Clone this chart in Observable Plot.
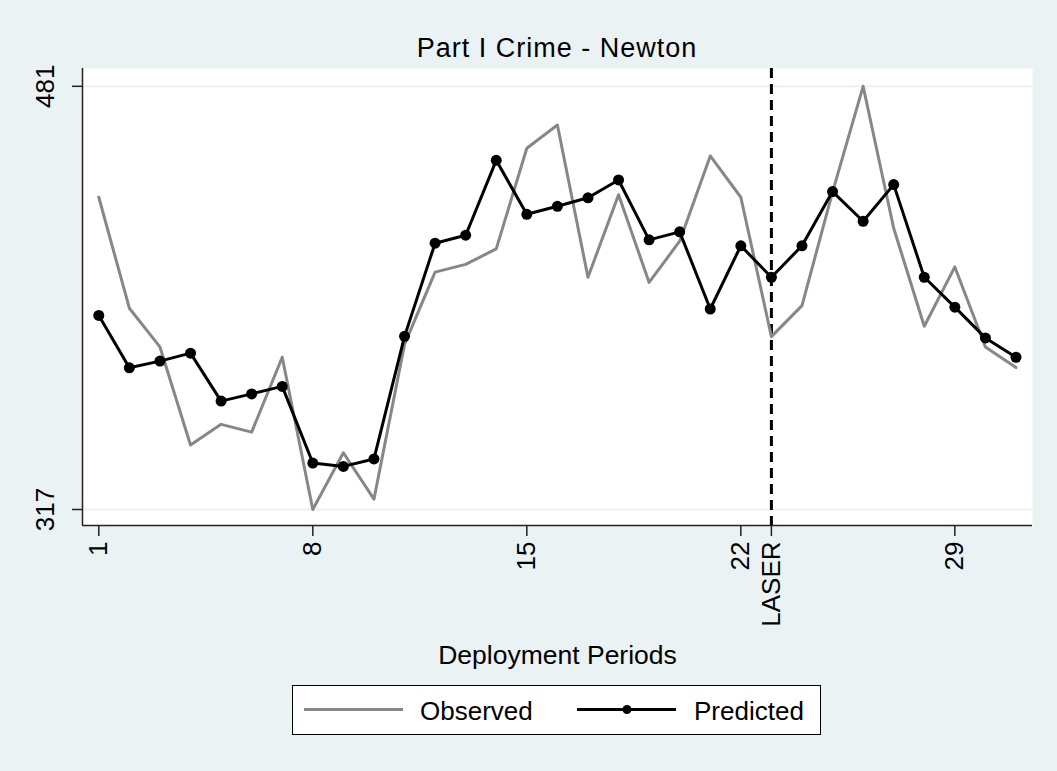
<!DOCTYPE html>
<html>
<head>
<meta charset="utf-8">
<script src="https://cdn.jsdelivr.net/npm/d3@7"></script>
<script src="https://cdn.jsdelivr.net/npm/@observablehq/plot@0.6"></script>
<style>
  html, body { margin: 0; padding: 0; background: #eaf2f3; }
  #wrap { position: relative; width: 1057px; height: 771px; background: #eaf2f3; font-family: "Liberation Sans", Arial, Helvetica, sans-serif; overflow: hidden; }
  #title { position: absolute; top: 33px; left: 82px; width: 950px; text-align: center; font-size: 27px; line-height: 30px; letter-spacing: 1px; color: #000; }
  #chart { position: absolute; top: 60px; left: 0; }
  #legend { position: absolute; left: 292px; top: 685px; }
</style>
</head>
<body>
<div id="wrap">
  <div id="title">Part I Crime - Newton</div>
  <div id="chart"></div>
  <div id="legend"></div>
</div>
<script>
// ---- data ----
const periods = [1,2,3,4,5,6,7,8,9,10,11,12,13,14,15,16,17,18,19,20,21,22,23,24,25,26,27,28,29,30,31];
const observed = [438,395,380,342,350,347,376,317,339,321,381,409,412,418,457,466,407,439,405,421,454,438,384,396,440,481,426,388,411,380,372];
const predicted = [392.2,371.9,374.5,377.6,359.0,361.8,364.7,335.0,333.7,336.6,384.1,420.2,423.3,452.3,431.4,434.5,437.8,444.7,421.5,424.6,394.7,419.2,407.0,419.2,440.2,428.7,442.9,407.0,395.4,383.5,376.0];
const xTickValues = [1, 8, 15, 22, 23, 29];
const xTickLabels = ["1", "8", "15", "22", "LASER", "29"];
const yTickValues = [317, 481];
const laserPeriod = 23;
const xTitle = "Deployment Periods";
const seriesNames = ["Observed", "Predicted"];

const rows = periods.map((p, i) => ({period: p, observed: observed[i], predicted: predicted[i]}));
const xDomain = [0.467, 31.54];
const yDomain = [310.8, 487.9];
const labelOf = new Map(xTickValues.map((v, i) => [v, xTickLabels[i]]));

const font = "'Liberation Sans', Arial, Helvetica, sans-serif";

const plot = Plot.plot({
  width: 1057,
  height: 620,
  marginTop: 8,
  marginBottom: 155,
  marginLeft: 82,
  marginRight: 25,
  style: {background: "transparent", fontFamily: font, color: "#000", overflow: "visible"},
  x: {type: "linear", domain: xDomain},
  y: {type: "linear", domain: yDomain},
  marks: [
    Plot.frame({fill: "white", stroke: "none"}),
    Plot.ruleY(yTickValues, {stroke: "#eaf2f3", strokeWidth: 2}),
    Plot.ruleX([xDomain[0]], {stroke: "#222", strokeWidth: 1.5}),
    Plot.ruleY([yDomain[0]], {stroke: "#222", strokeWidth: 1.5}),
    Plot.axisY({ticks: yTickValues, tickSize: 10, tickPadding: 19, tickRotate: -90,
      textAnchor: "middle", lineAnchor: "bottom", fontSize: 26, label: null, stroke: "#222", strokeWidth: 1.5, tickFormat: d => String(d)}),
    Plot.axisX({ticks: xTickValues, tickSize: 11, tickPadding: 5, tickRotate: -90,
      textAnchor: "end", lineAnchor: "middle", fontSize: 26, label: null, stroke: "#222", strokeWidth: 1.5, tickFormat: d => labelOf.get(d)}),
    Plot.ruleX([laserPeriod], {stroke: "black", strokeWidth: 3, strokeDasharray: "10,6"}),
    Plot.line(rows, {x: "period", y: "observed", stroke: "#878787", strokeWidth: 3}),
    Plot.line(rows, {x: "period", y: "predicted", stroke: "black", strokeWidth: 3}),
    Plot.dot(rows, {x: "period", y: "predicted", r: 5.5, fill: "black", stroke: "none"}),
    Plot.text([xTitle], {text: d => d, frameAnchor: "bottom", lineAnchor: "bottom", dy: 138, fontSize: 26.5, fill: "black"})
  ]
});
document.getElementById("chart").appendChild(plot);

// ---- legend ----
const lg = d3.select("#legend").append("svg")
  .attr("width", 529).attr("height", 50)
  .style("display", "block");
lg.append("rect").attr("x", 0.5).attr("y", 0.5).attr("width", 528).attr("height", 49)
  .attr("fill", "white").attr("stroke", "black").attr("stroke-width", 1);
lg.append("line").attr("x1", 12).attr("x2", 111).attr("y1", 24.5).attr("y2", 24.5)
  .attr("stroke", "#878787").attr("stroke-width", 3);
lg.append("text").attr("x", 128).attr("y", 35).text(seriesNames[0])
  .attr("font-family", font).attr("font-size", 26).attr("fill", "black");
lg.append("line").attr("x1", 285).attr("x2", 384).attr("y1", 24.5).attr("y2", 24.5)
  .attr("stroke", "black").attr("stroke-width", 3);
lg.append("circle").attr("cx", 335).attr("cy", 24.5).attr("r", 4.5).attr("fill", "black");
lg.append("text").attr("x", 402).attr("y", 35).text(seriesNames[1])
  .attr("font-family", font).attr("font-size", 26).attr("fill", "black");
</script>
</body>
</html>
